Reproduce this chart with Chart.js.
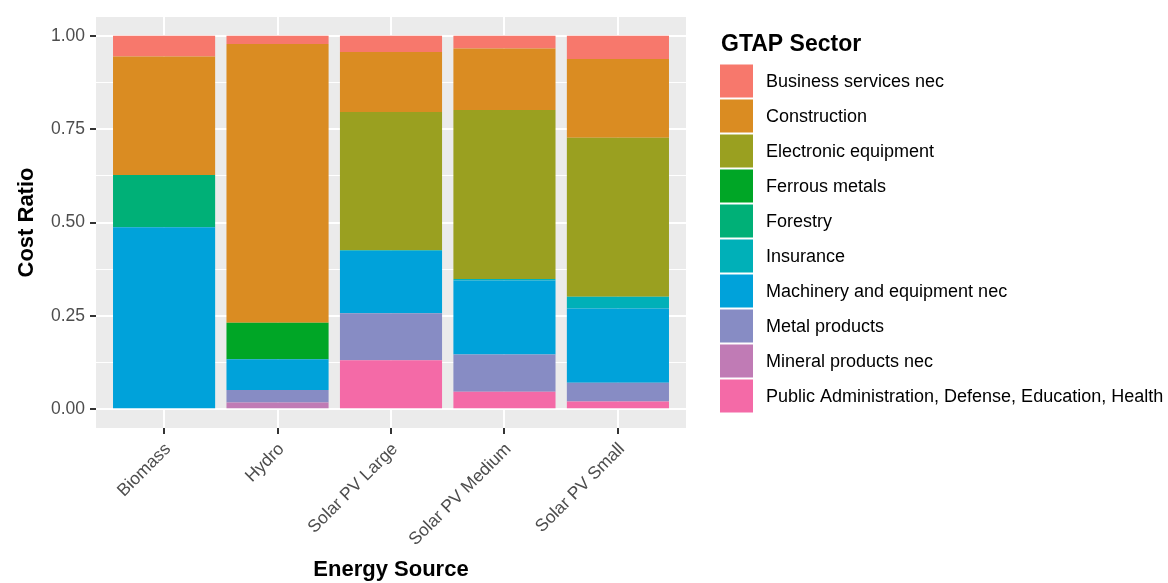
<!DOCTYPE html>
<html>
<head>
<meta charset="utf-8">
<script src="https://cdn.jsdelivr.net/npm/chart.js@4.4.0/dist/chart.umd.min.js"></script>
<style>
  html, body { margin: 0; padding: 0; background: #fff; }
  canvas { display: block; }
</style>
</head>
<body>
<canvas id="costChart" width="1168" height="583"></canvas>
<script>
// energy sources (x categories)
var sources = ['Biomass', 'Hydro', 'Solar PV Large', 'Solar PV Medium', 'Solar PV Small'];

// GTAP sectors in legend order (top of stack first)
var sectors = [
    'Business services nec',
    'Construction',
    'Electronic equipment',
    'Ferrous metals',
    'Forestry',
    'Insurance',
    'Machinery and equipment nec',
    'Metal products',
    'Mineral products nec',
    'Public Administration, Defense, Education, Health'
];

// cost ratio per sector, one value per energy source
var businessServices = [0.056, 0.022, 0.044, 0.034, 0.062];
var construction     = [0.317, 0.746, 0.160, 0.165, 0.211];
var electronic       = [0, 0, 0.370, 0.452, 0.425];
var ferrousMetals    = [0, 0.098, 0, 0, 0];
var forestry         = [0.140, 0, 0, 0, 0];
var insurance        = [0, 0, 0.002, 0.004, 0.032];
var machinery        = [0.487, 0.082, 0.167, 0.1985, 0.1985];
var metalProducts    = [0, 0.034, 0.126, 0.0995, 0.050];
var mineralProducts  = [0, 0.018, 0, 0, 0];
var publicAdmin      = [0, 0, 0.131, 0.047, 0.021];

var yTicks = [0, 0.25, 0.5, 0.75, 1];
var yMinor = [0.125, 0.375, 0.625, 0.875];

var sectorValues = [businessServices, construction, electronic, ferrousMetals, forestry,
                    insurance, machinery, metalProducts, mineralProducts, publicAdmin];
var sectorColors = ['#F7786C', '#DA8C22', '#9AA020', '#00A626', '#00B077',
                    '#00B0B8', '#00A2DA', '#878CC4', '#C07BB5', '#F46AA7'];

var fontFamily = "'Liberation Sans', Arial, sans-serif";
Chart.defaults.font.family = fontFamily;

// chart.js stacks the first dataset at the bottom, so go in reverse
var datasets = [];
for (var i = sectors.length - 1; i >= 0; i--) {
    datasets.push({
        label: sectors[i],
        data: sectorValues[i].map(function(v, j){ return {x: j, y: v}; }),
        backgroundColor: sectorColors[i],
        borderWidth: 0,
        categoryPercentage: 0.9,
        barPercentage: 1.0
    });
}

var panelBg = {
    id: 'panelBg',
    beforeDraw: function(chart){
        var a = chart.chartArea, c = chart.ctx;
        c.save();
        c.fillStyle = '#EBEBEB';
        c.fillRect(a.left, a.top, a.right - a.left, a.bottom - a.top);
        c.restore();
    }
};

// ggplot style legend on the right
var sideLegend = {
    id: 'sideLegend',
    afterDraw: function(chart){
        var c = chart.ctx;
        var x0 = chart.chartArea.right + 34;
        c.save();
        c.fillStyle = '#000';
        c.font = 'bold 23px ' + fontFamily;
        c.textBaseline = 'alphabetic';
        c.fillText('GTAP Sector', x0 + 1, 51);
        c.font = '18px ' + fontFamily;
        c.textBaseline = 'middle';
        for (var k = 0; k < sectors.length; k++) {
            var cy = 81 + k * 35;
            c.fillStyle = sectorColors[k];
            c.fillRect(x0, cy - 16.5, 33, 33);
            c.fillStyle = '#000';
            c.fillText(sectors[k], x0 + 46, cy + 1);
        }
        c.restore();
    }
};

var ctx = document.getElementById('costChart').getContext('2d');
var costChart = new Chart(ctx, {
    type: 'bar',
    data: { datasets: datasets },
    plugins: [panelBg, sideLegend],
    options: {
        responsive: false,
        animation: false,
        layout: { padding: { top: 17, right: 482, bottom: 0, left: 0 } },
        plugins: {
            legend: { display: false },
            tooltip: { enabled: false }
        },
        scales: {
            x: {
                type: 'linear',
                stacked: true,
                offset: false,
                min: -0.6,
                max: 4.6,
                afterBuildTicks: function(scale){
                    scale.ticks = sources.map(function(s, j){ return {value: j}; });
                },
                afterFit: function(scale){ scale.height = 155; },
                border: { display: false },
                grid: {
                    offset: false,
                    color: '#FFFFFF',
                    lineWidth: 2,
                    tickLength: 6,
                    tickColor: '#333333',
                    tickWidth: 2
                },
                ticks: {
                    autoSkip: false,
                    maxRotation: 45,
                    minRotation: 45,
                    padding: 5,
                    labelOffset: 4,
                    color: '#4D4D4D',
                    font: { size: 17.5 },
                    callback: function(v){ return sources[v]; }
                },
                title: {
                    display: true,
                    text: 'Energy Source',
                    color: '#000',
                    font: { size: 22, weight: 'bold' },
                    padding: { top: 0, bottom: 0 }
                }
            },
            y: {
                stacked: true,
                min: -0.05,
                max: 1.05,
                afterBuildTicks: function(scale){
                    scale.ticks = yTicks.concat(yMinor).sort().map(function(v){ return {value: v}; });
                },
                afterFit: function(scale){ scale.width = 96; },
                border: { display: false },
                grid: {
                    color: '#FFFFFF',
                    lineWidth: function(c){ return yTicks.indexOf(c.tick.value) >= 0 ? 2 : 1; },
                    tickLength: 6,
                    tickWidth: 2,
                    tickColor: function(c){ return yTicks.indexOf(c.tick.value) >= 0 ? '#333333' : 'rgba(0,0,0,0)'; }
                },
                ticks: {
                    padding: 5,
                    color: '#4D4D4D',
                    font: { size: 17.5 },
                    callback: function(v){ return yTicks.indexOf(v) >= 0 ? v.toFixed(2) : ''; }
                },
                title: {
                    display: true,
                    text: 'Cost Ratio',
                    color: '#000',
                    font: { size: 22, weight: 'bold' },
                    padding: { top: 14, bottom: 0 }
                }
            }
        }
    }
});
</script>
</body>
</html>
